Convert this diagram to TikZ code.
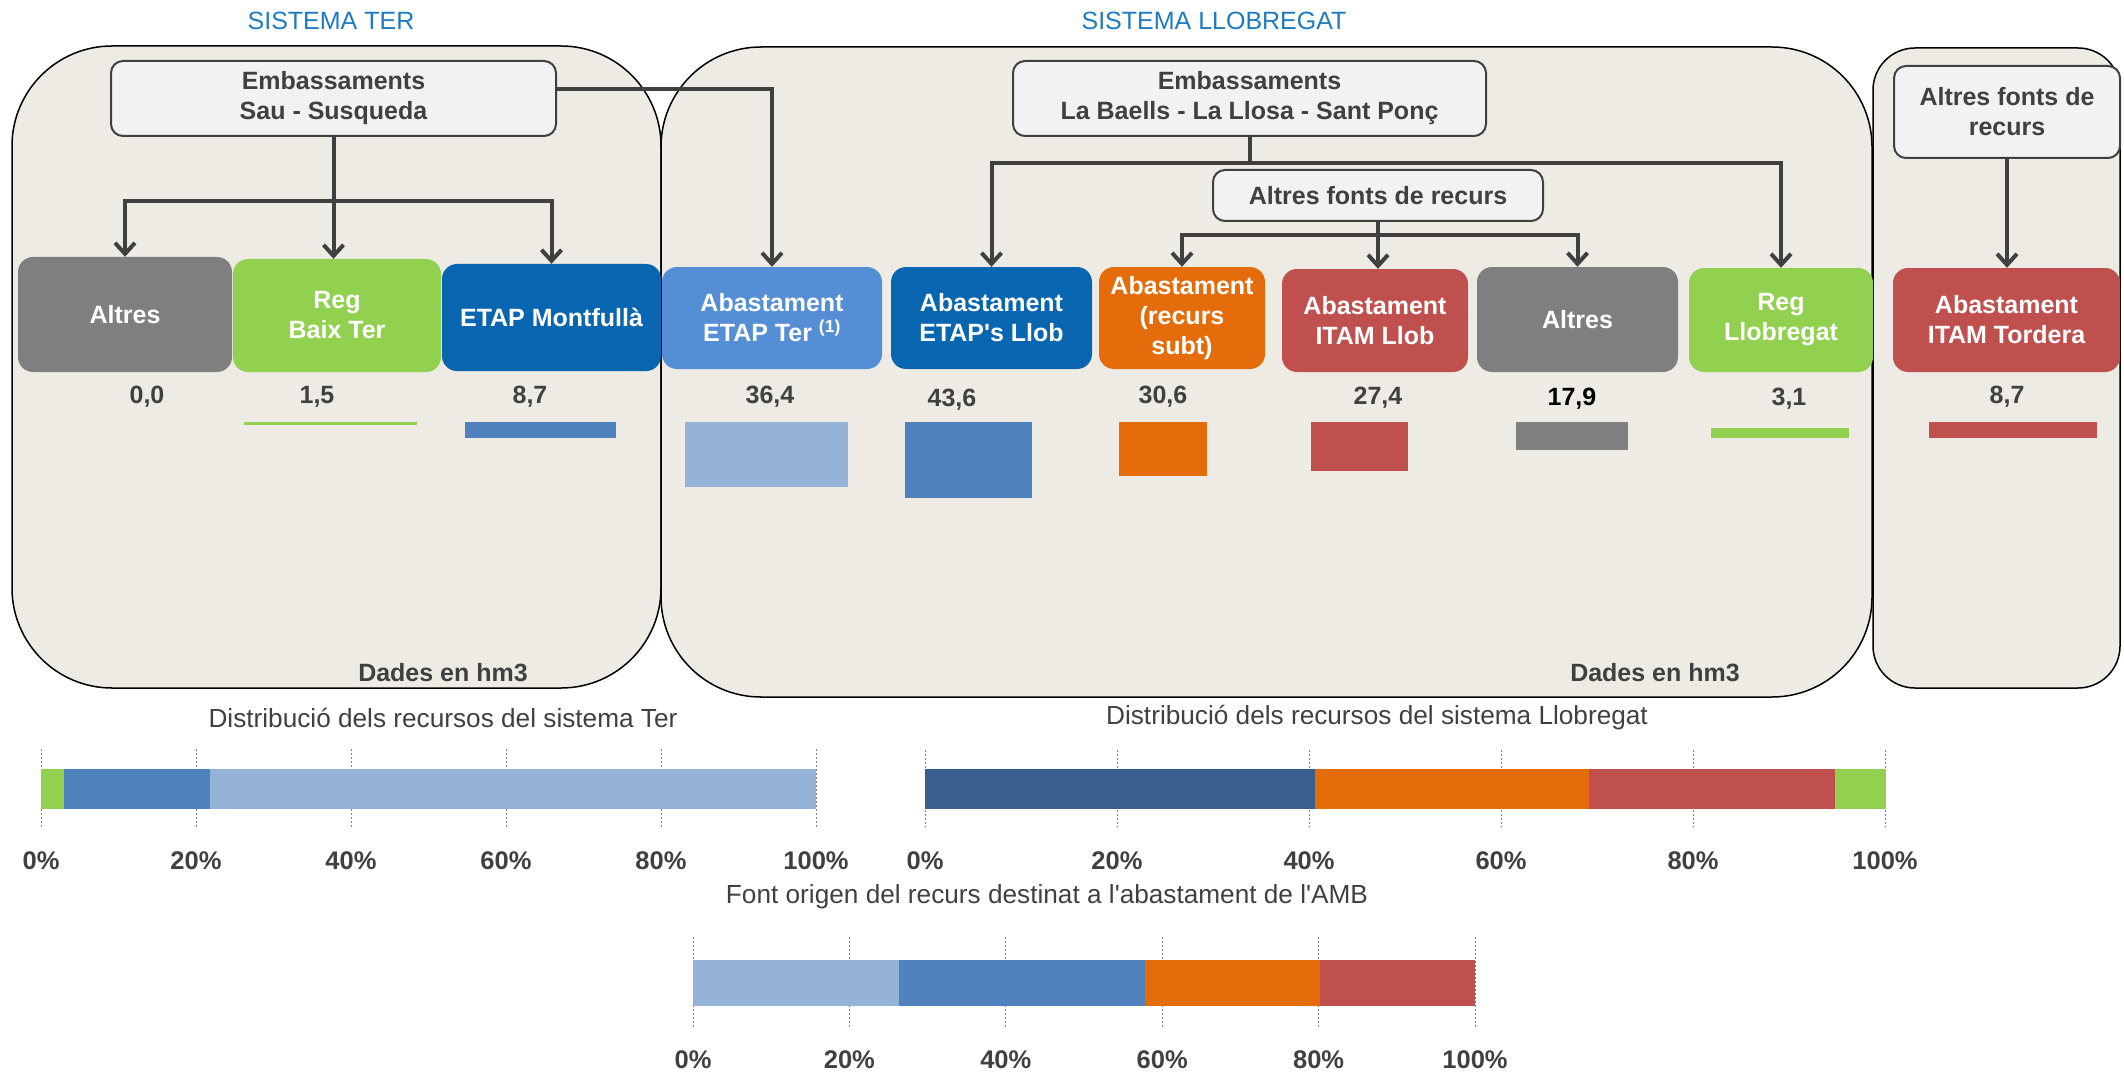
\documentclass[tikz,border=0pt]{standalone}
\usepackage{fontspec}
\setmainfont{Liberation Sans}[Ligatures=TeXOff]
\usetikzlibrary{arrows.meta}
\definecolor{panelfill}{HTML}{EDEBE3}
\definecolor{srcfill}{HTML}{F2F2F2}
\definecolor{txtgray}{HTML}{404040}
\definecolor{sysblue}{HTML}{1F7BC0}
\definecolor{boxgray}{HTML}{7F7F7F}
\definecolor{boxgreen}{HTML}{92D050}
\definecolor{boxblue}{HTML}{0866B0}
\definecolor{boxlight}{HTML}{558ED5}
\definecolor{boxorange}{HTML}{E46C0A}
\definecolor{boxred}{HTML}{C0504D}
\definecolor{barlight}{HTML}{95B3D7}
\definecolor{barblue}{HTML}{4F81BD}
\definecolor{bardark}{HTML}{3A5F8E}
\begin{document}
\begin{tikzpicture}[x=1pt, y=-1pt,
	panel/.style = {draw=black, fill=panelfill, line width=1.5pt},
	main/.style = {rounded corners=15pt, inner sep=0pt, align=center, text=white, font=\bfseries\fontsize{25}{30}\selectfont},
	src/.style = {draw=txtgray, fill=srcfill, line width=2pt, rounded corners=12pt, inner sep=0pt, align=center, text=txtgray, font=\bfseries\fontsize{25}{30}\selectfont},
	val/.style = {text=txtgray, font=\bfseries\fontsize{25}{30}\selectfont},
	pct/.style = {text=txtgray, font=\bfseries\fontsize{25.5}{30}\selectfont},
	ttl/.style = {text=txtgray, font=\fontsize{26.2}{30}\selectfont},
	sys/.style = {text=sysblue, font=\fontsize{25}{30}\selectfont},
	lnk/.style = {draw=txtgray, line width=4pt},
	arr/.style = {draw=txtgray, line width=4pt, -{Straight Barb[length=11pt, width=20pt]}},
	gridln/.style = {draw=boxgray, line width=1pt, dash pattern=on 2pt off 2pt}]
	\useasboundingbox (0,0) rectangle (2124,1075);
	
	\node[sys] (s1) at (331,21) {SISTEMA TER};
	\node[sys] (s2) at (1214,21) {SISTEMA LLOBREGAT};
	
	\draw[panel, rounded corners=100pt] (12,46) rectangle (661,688);
	\draw[panel, rounded corners=100pt] (661,47) rectangle (1872,697);
	\draw[panel, rounded corners=42pt] (1873,48) rectangle (2120,688);
	
	\node[src, minimum width=445pt, minimum height=75pt] (1) at (333.5,98.5) {Embassaments\\Sau - Susqueda};
	\node[src, minimum width=473pt, minimum height=75pt] (2) at (1249.5,98.5) {Embassaments\\La Baells - La Llosa - Sant Ponç};
	\node[src, minimum width=330pt, minimum height=51pt] (12) at (1378,195.5) {Altres fonts de recurs};
	\node[src, minimum width=226pt, minimum height=92pt] (13) at (2007,112) {Altres fonts de\\recurs};
	
	\node[main, fill=boxgray, minimum width=214pt, minimum height=115pt] (3) at (125,314.5) {Altres};
	\node[main, fill=boxgreen, minimum width=208pt, minimum height=113pt] (4) at (337,315.5) {Reg\\Baix Ter};
	\node[main, fill=boxblue, minimum width=219pt, minimum height=107pt] (5) at (551.5,317.5) {ETAP Montfullà};
	\node[main, fill=boxlight, minimum width=220pt, minimum height=102pt] (6) at (772,318) {Abastament\\ETAP Ter \textsuperscript{(1)}};
	\node[main, fill=boxblue, minimum width=201pt, minimum height=102pt] (7) at (991.5,318) {Abastament\\ETAP's Llob};
	\node[main, fill=boxorange, minimum width=166pt, minimum height=102pt] (8) at (1182,318) {Abastament\\(recurs\\subt)};
	\node[main, fill=boxred, minimum width=186pt, minimum height=103pt] (9) at (1375,320.5) {Abastament\\ITAM Llob};
	\node[main, fill=boxgray, minimum width=201pt, minimum height=105pt] (10) at (1577.5,319.5) {Altres};
	\node[main, fill=boxgreen, minimum width=184pt, minimum height=104pt] (11) at (1781,320) {Reg\\Llobregat};
	\node[main, fill=boxred, minimum width=227pt, minimum height=104pt] (14) at (2006.5,320) {Abastament\\ITAM Tordera};
	
	\coordinate (t) at (333.5,201);
	\coordinate (l) at (1249.5,163);
	\coordinate (a) at (1378,235);
	
	\draw[lnk] (1.south) -- (t);
	\draw[arr] (t) -| (3.north);
	\draw[arr] (t) -- (t |- 4.north);
	\draw[arr] (t) -| (5.north);
	\draw[arr] ([yshift=9pt]1.east) -| (6.north);
	\draw[lnk] (2.south) -- (l);
	\draw[arr] (l) -| (7.north);
	\draw[arr] (l) -| (11.north);
	\draw[lnk] (12.south) -- (a);
	\draw[arr] (a) -| (8.north);
	\draw[arr] (a) -- (a |- 9.north);
	\draw[arr] (a) -| (10.north);
	\draw[arr] (13.south) -- (13.south |- 14.north);
	
	\node[val] (v3) at (147,397) {0,0};
	\node[val] (v4) at (317,397) {1,5};
	\node[val] (v5) at (530,397) {8,7};
	\node[val] (v6) at (770,397) {36,4};
	\node[val] (v7) at (952,400) {43,6};
	\node[val] (v8) at (1163,397) {30,6};
	\node[val] (v9) at (1378,398) {27,4};
	\node[val, text=black] (v10) at (1572,399) {17,9};
	\node[val] (v11) at (1789,399) {3,1};
	\node[val] (v14) at (2007,397) {8,7};
	
	\fill[boxgreen] (244,422) rectangle (417,425);
	\fill[barblue] (465,422) rectangle (616,438);
	\fill[barlight] (685,422) rectangle (848,487);
	\fill[barblue] (905,422) rectangle (1032,498);
	\fill[boxorange] (1119,422) rectangle (1207,476);
	\fill[boxred] (1311,422) rectangle (1408,471);
	\fill[boxgray] (1516,422) rectangle (1628,450);
	\fill[boxgreen] (1711,428) rectangle (1849,438);
	\fill[boxred] (1929,422) rectangle (2097,438);
	
	\node[val] (d1) at (443,673) {Dades en hm3};
	\node[val] (d2) at (1655,673) {Dades en hm3};
	
	\node[ttl] (c1) at (443,718) {Distribució dels recursos del sistema Ter};
	\node[ttl] (c2) at (1377,718) {Distribució dels recursos del sistema Llobregat};
	\node[ttl] (c3) at (1047,897) {Font origen del recurs destinat a l'abastament de l'AMB};
	
	\foreach \p in {0,20,...,100} {
		\draw[gridln] ({41+7.75*\p},749) -- ({41+7.75*\p},828);
		\node[pct] at ({41+7.75*\p},861) {\p\%};
		\draw[gridln] ({925+9.6*\p},750) -- ({925+9.6*\p},827);
		\node[pct] at ({925+9.6*\p},861) {\p\%};
		\draw[gridln] ({693+7.82*\p},937) -- ({693+7.82*\p},1027);
		\node[pct] at ({693+7.82*\p},1060) {\p\%};
	}
	
	\fill[boxgreen] (41,769) rectangle (64,809);
	\fill[barblue] (64,769) rectangle (210,809);
	\fill[barlight] (210,769) rectangle (816,809);
	
	\fill[bardark] (925,769) rectangle (1315,809);
	\fill[boxorange] (1315,769) rectangle (1589,809);
	\fill[boxred] (1589,769) rectangle (1835,809);
	\fill[boxgreen] (1835,769) rectangle (1886,809);
	
	\fill[barlight] (693,960) rectangle (899,1006);
	\fill[barblue] (899,960) rectangle (1145,1006);
	\fill[boxorange] (1145,960) rectangle (1320,1006);
	\fill[boxred] (1320,960) rectangle (1475,1006);
	
\end{tikzpicture}
\end{document}
